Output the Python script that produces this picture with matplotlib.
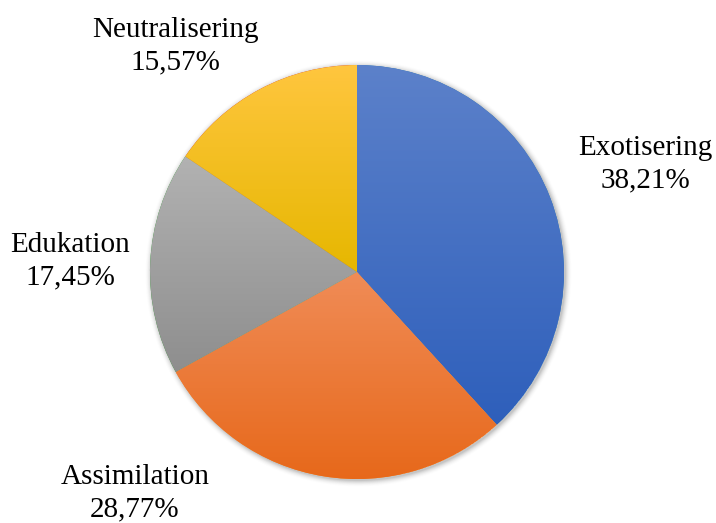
import numpy as np
import matplotlib
matplotlib.use("Agg")
import matplotlib.pyplot as plt
from matplotlib.colors import LinearSegmentedColormap

categories = ["Exotisering", "Assimilation", "Edukation", "Neutralisering"]
values = [38.21, 28.77, 17.45, 15.57]
value_labels = ["38,21%", "28,77%", "17,45%", "15,57%"]

top_colors = ["#5C81CA", "#F08C57", "#B2B2B2", "#FFC63F"]
bot_colors = ["#2E5FBB", "#E7681A", "#8E8E8E", "#E6B700"]

W, H = 716, 523
fig = plt.figure(figsize=(W / 100, H / 100), dpi=100)
ax = fig.add_axes([0, 0, 1, 1])

cx, cy, R = 357, H - 272, 207

# soft shadow halo
yy, xx = np.mgrid[0:H, 0:W]
d = np.sqrt((xx - cx - 1) ** 2 + ((H - yy) - cy + 1) ** 2)
halo = np.clip(1 - (d - R) / 7.0, 0, 1) * (d > R - 2)
rgba = np.zeros((H, W, 4))
rgba[..., :3] = 0.35
rgba[..., 3] = 0.35 * halo ** 2
ax.imshow(rgba, extent=(0, W, 0, H), origin="upper", zorder=0)

wedges, _ = ax.pie(values, startangle=90, counterclock=False,
                   center=(cx, cy), radius=R,
                   wedgeprops=dict(linewidth=0))

for w, c1, c2 in zip(wedges, top_colors, bot_colors):
    verts = w.get_path().vertices
    y0, y1 = verts[:, 1].min(), verts[:, 1].max()
    x0, x1 = verts[:, 0].min(), verts[:, 0].max()
    cmap = LinearSegmentedColormap.from_list("g", [c2, c1])
    grad = np.linspace(0, 1, 256).reshape(-1, 1)
    im = ax.imshow(grad, cmap=cmap, extent=(x0, x1, y0, y1), origin="lower",
                   aspect="auto", zorder=w.get_zorder() + 0.1)
    im.set_clip_path(w)

label_pos = {
    "Exotisering": (645, 148),
    "Assimilation": (135, 477),
    "Edukation": (70, 245),
    "Neutralisering": (175, 30),
}
for cat, vl in zip(categories, value_labels):
    x, y = label_pos[cat]
    ax.text(x, H - y, cat, ha="center", va="center", fontsize=21,
            family="Liberation Serif", color="black", zorder=5)
    ax.text(x, H - y - 32, vl, ha="center", va="center", fontsize=21,
            family="Liberation Serif", color="black", zorder=5)

ax.set_xlim(0, W)
ax.set_ylim(0, H)
ax.set_aspect("auto")
ax.axis("off")
fig.savefig("out.png", dpi=100)
